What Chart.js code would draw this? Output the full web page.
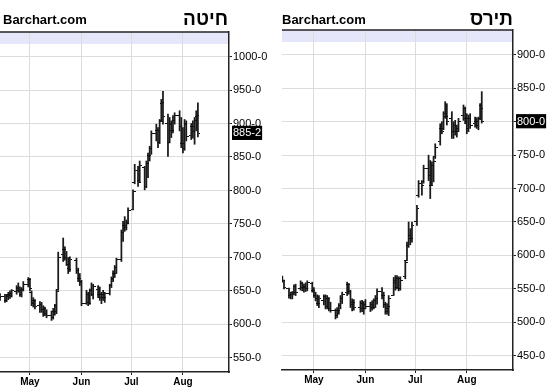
<!DOCTYPE html>
<html><head><meta charset="utf-8">
<script src="https://cdn.jsdelivr.net/npm/chart.js@4.4.1/dist/chart.umd.min.js"></script>
<style>
html,body{margin:0;padding:0;background:#fff;width:550px;height:390px;overflow:hidden;}
.panel{position:absolute;top:0;width:275px;height:390px;}
canvas{position:absolute;left:0;top:0;}
.brand{position:absolute;top:12px;font:bold 13px "Liberation Sans",Arial,sans-serif;line-height:16px;color:#000;white-space:nowrap;}
.title{position:absolute;top:7px;font:bold 19px "Liberation Sans",Arial,sans-serif;line-height:24px;color:#000;direction:rtl;white-space:nowrap;}
</style></head>
<body>
<div class="panel" style="left:0"><canvas id="c1" width="275" height="390"></canvas><div class="brand" style="left:3px">Barchart.com</div><div class="title" style="right:47px">חיטה</div></div>
<div class="panel" style="left:275px"><canvas id="c2" width="275" height="390"></canvas><div class="brand" style="left:7px">Barchart.com</div><div class="title" style="right:37px">תירס</div></div>
<script>
// ---- data (2012 daily bars) ----
const dates = ['2012-04-12','2012-04-13','2012-04-16','2012-04-17','2012-04-18','2012-04-19','2012-04-20','2012-04-23','2012-04-24','2012-04-25','2012-04-26','2012-04-27','2012-04-30',
'2012-05-01','2012-05-02','2012-05-03','2012-05-04','2012-05-07','2012-05-08','2012-05-09','2012-05-10','2012-05-11','2012-05-14','2012-05-15','2012-05-16','2012-05-17','2012-05-18','2012-05-21','2012-05-22','2012-05-23','2012-05-24','2012-05-25','2012-05-29','2012-05-30','2012-05-31',
'2012-06-01','2012-06-04','2012-06-05','2012-06-06','2012-06-07','2012-06-08','2012-06-11','2012-06-12','2012-06-13','2012-06-14','2012-06-15','2012-06-18','2012-06-19','2012-06-20','2012-06-21','2012-06-22','2012-06-25','2012-06-26','2012-06-27','2012-06-28','2012-06-29',
'2012-07-02','2012-07-03','2012-07-05','2012-07-06','2012-07-09','2012-07-10','2012-07-11','2012-07-12','2012-07-13','2012-07-16','2012-07-17','2012-07-18','2012-07-19','2012-07-20','2012-07-23','2012-07-24','2012-07-25','2012-07-26','2012-07-27','2012-07-30','2012-07-31',
'2012-08-01','2012-08-02','2012-08-03','2012-08-06','2012-08-07','2012-08-08','2012-08-09','2012-08-10'];

// Wheat (חיטה)
const wheatOpen  = [645,640,641,636,642,645,643,649,654,650,645,652,660, 667,648,633,635,628,630,622,623,617,614,610,620,628,652,705,712,700,690,683,695,681,668, 664,632,645,633,650,645,652,645,640,645,640,646,658,667,676,685,697,738,748,745,752, 772,812,830,815,834,806,840,852,862,885,890,872,905,930,900,872,898,890,905,912,895, 870,862,898,882,895,888,905,910];
const wheatHigh  = [650,646,645,645,648,650,652,658,662,656,655,664,670, 669,650,640,637,634,633,628,626,622,620,624,630,652,708,729,716,709,700,701,699,684,676, 666,651,648,653,662,660,658,656,648,651,648,660,671,680,688,699,741,754,761,756,774, 801,839,836,844,836,844,856,866,889,899,894,906,936,948,914,909,904,912,916,919,909, 894,906,904,900,904,909,919,931];
const wheatLow   = [638,636,633,634,637,639,641,645,648,642,641,650,656, 650,628,626,623,618,618,612,613,610,606,608,614,616,651,694,696,688,676,679,676,664,658, 628,630,628,630,643,638,640,636,631,636,633,644,655,664,670,676,694,724,739,741,750, 771,810,806,812,801,804,819,844,854,874,864,870,903,899,851,871,879,886,899,889,864, 856,860,874,876,878,869,889,880];
const wheatClose = [640,642,635,643,646,642,650,655,650,645,652,660,667, 653,632,636,627,630,622,624,617,614,610,620,627,649,700,712,700,690,682,697,680,668,662, 632,645,632,650,645,656,645,640,645,640,646,658,668,676,685,697,738,748,745,750,770, 798,830,812,838,806,840,852,862,885,890,872,903,932,910,872,900,890,905,912,895,870, 862,900,880,895,888,905,912,885.25];

// Corn (תירס)
const cornOpen  = [565,562,550,540,542,544,553,550,558,552,554,550,558, 548,540,535,528,532,538,524,535,520,518,510,518,525,536,545,556,546,526,530,522,528,520, 527,524,527,522,533,536,546,540,526,516,520,540,560,552,566,550,568,592,615,630,625, 650,690,708,710,730,720,705,735,748,770,790,790,812,808,805,785,795,785,790,810,820, 805,790,805,797,800,795,805,825];
const cornHigh  = [569,563,551,545,546,556,557,562,560,557,559,562,560, 552,545,541,540,541,541,540,537,530,520,522,528,540,545,560,558,548,535,534,532,533,531, 534,530,532,535,540,550,552,545,530,528,540,567,570,570,568,568,592,620,650,640,650, 675,712,712,735,750,742,740,748,767,797,800,815,830,827,815,800,802,795,805,825,822, 812,810,812,807,806,807,827,845];
const cornLow   = [560,550,536,535,535,541,540,548,547,545,546,547,545, 537,532,525,522,526,520,520,517,515,505,507,512,520,528,540,542,522,517,518,515,516,512, 520,516,518,520,522,527,535,522,512,512,510,540,548,550,547,548,565,592,612,616,620, 645,687,690,708,712,685,705,710,745,765,782,788,805,795,775,775,780,777,785,802,797, 782,785,790,792,790,788,803,798];
const cornClose = [562,552,540,542,544,553,545,558,552,554,550,560,548, 540,535,528,536,538,524,535,520,518,510,518,525,536,542,556,546,526,530,522,528,520,527, 524,527,522,533,536,546,540,526,516,524,536,562,552,566,550,562,590,615,630,625,645, 670,708,705,730,720,705,735,740,762,790,786,812,808,800,785,795,785,790,800,820,805, 790,805,795,800,795,805,820,800];

// Axis ticks
const monthStarts = ['2012-05-01','2012-06-01','2012-07-01','2012-08-01'];
const monthLabels = ['May','Jun','Jul','Aug'];
const wheatTicks = [550,600,650,700,750,800,850,900,950,1000];
const cornTicks  = [450,500,550,600,650,700,750,800,850,900];

// ---- helpers ----
const ORIGIN = Date.UTC(2012,3,1);
const dayOf = s => { const p = s.split('-').map(Number); return (Date.UTC(p[0],p[1]-1,p[2]) - ORIGIN)/86400000; };
const days = dates.map(dayOf);
const monthDays = monthStarts.map(dayOf);
const fmt = v => { const w = Math.floor(v); const e = Math.round((v - w) * 8); return w + '-' + e; };
function tickImg(side){
  const c = document.createElement('canvas'); c.width = 5; c.height = 1;
  const g = c.getContext('2d'); g.fillStyle = '#111';
  g.fillRect(side < 0 ? 0 : 3, 0, 2, 1);
  return c;
}
const openImg = tickImg(-1), closeImg = tickImg(1);

const framePlugin = {
  id: 'frame',
  beforeDraw(chart){
    const a = chart.chartArea, ctx = chart.ctx;
    ctx.save(); ctx.fillStyle = '#e6e6fa';
    ctx.fillRect(a.left, a.top, a.right - a.left, 12);
    ctx.restore();
  },
  afterDraw(chart){
    const a = chart.chartArea, ctx = chart.ctx;
    ctx.save(); ctx.strokeStyle = '#222'; ctx.lineWidth = 1.5;
    ctx.beginPath(); ctx.moveTo(a.left, a.top); ctx.lineTo(a.right, a.top); ctx.stroke();
    ctx.restore();
  }
};

function makeChart(id, o, h, l, c, ticksArr, yMin, yMax, xMin, xMax, padLeft, padTop, yWidth, xHeight){
  const last = c[c.length - 1];
  const FONT = 'Liberation Sans, Arial, sans-serif';
  return new Chart(document.getElementById(id), {
    type: 'bar',
    data: {
      datasets: [
        { type:'bar', data: days.map((d,i)=>({x:d, y:[l[i], h[i]]})), backgroundColor:'#1a1a1a', borderWidth:0, barThickness:1.1, order:2 },
        { type:'scatter', data: days.map((d,i)=>({x:d, y:o[i]})), pointStyle: openImg, pointRadius:2, pointHoverRadius:0, pointBorderWidth:0, order:1 },
        { type:'scatter', data: days.map((d,i)=>({x:d, y:c[i]})), pointStyle: closeImg, pointRadius:2, pointHoverRadius:0, pointBorderWidth:0, order:1 }
      ]
    },
    options: {
      responsive:false, animation:false, events:[],
      layout:{ autoPadding:false, padding:{ left:padLeft, top:padTop, right:0, bottom:0 } },
      plugins:{ legend:{display:false}, tooltip:{enabled:false} },
      scales:{
        x:{
          type:'linear', min:xMin, max:xMax, offset:false,
          grid:{ color:'#dcdcdc', lineWidth:1, tickColor:'#222', tickLength:3, offset:false },
          border:{ color:'#222', width:1.5 },
          ticks:{ autoSkip:false, maxRotation:0, padding:1, color:'#000',
                  font:{ family:FONT, size:10, weight:'bold' },
                  callback:(v,i)=>monthLabels[i] },
          afterBuildTicks: s => { s.ticks = monthDays.map(v=>({value:v})); },
          afterFit: s => { s.height = xHeight; }
        },
        y:{
          type:'linear', position:'right', min:yMin, max:yMax,
          grid:{ color: ctx => (ctx.tick && ctx.tick.value === last && !ticksArr.includes(last)) ? 'rgba(0,0,0,0)' : '#dcdcdc',
                 tickColor: ctx => (ctx.tick && ctx.tick.value === last && !ticksArr.includes(last)) ? 'rgba(0,0,0,0)' : '#222',
                 lineWidth:1, tickLength:3 },
          border:{ color:'#222', width:1.5 },
          ticks:{ autoSkip:false, padding:1, font:{ family:FONT, size:11 },
                  color: ctx => ctx.tick && ctx.tick.value === last ? '#fff' : '#000',
                  showLabelBackdrop: ctx => !!(ctx.tick && ctx.tick.value === last),
                  backdropColor:'#000', backdropPadding:{top:1,bottom:0,left:1,right:1},
                  callback: v => v === last ? fmt(last) : (Math.abs(v - last) < 12 ? '' : fmt(v)) },
          afterBuildTicks: s => {
            const vals = ticksArr.slice();
            if (!vals.includes(last)) vals.push(last);
            vals.sort((a,b)=>a-b);
            s.ticks = vals.map(v=>({value:v}));
          },
          afterFit: s => { s.width = yWidth; }
        }
      }
    },
    plugins:[framePlugin]
  });
}

makeChart('c1', wheatOpen, wheatHigh, wheatLow, wheatClose, wheatTicks, 529, 1036.6, 12, 149.7, 0, 32, 46, 18);
makeChart('c2', cornOpen, cornHigh, cornLow, cornClose, cornTicks, 428.6, 937.2, 10.8, 149.8, 7, 30, 37, 20);
</script>
</body></html>
